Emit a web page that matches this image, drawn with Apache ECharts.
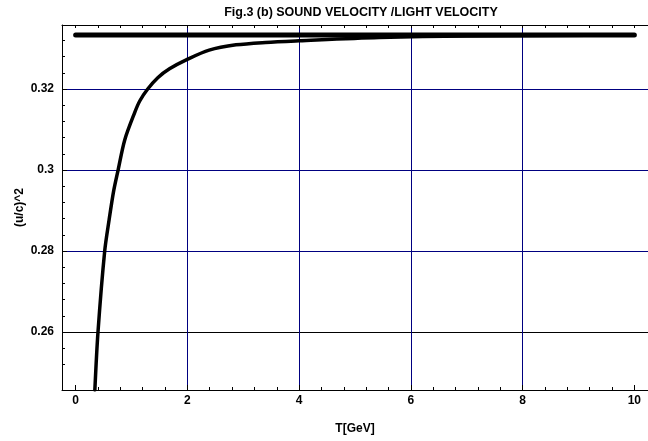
<!DOCTYPE html>
<html>
<head>
<meta charset="utf-8">
<script src="https://cdn.jsdelivr.net/npm/echarts@6/dist/echarts.min.js"></script>
<style>html,body{margin:0;padding:0;background:#fff}#c{width:648px;height:441px}</style>
</head>
<body>
<div id="c"></div>
<script>
// ---- data ----
const titleText = 'Fig.3 (b) SOUND VELOCITY /LIGHT VELOCITY';
const xName = 'T[GeV]';
const yName = '(u/c)^2';
const xMajor = [0, 2, 4, 6, 8, 10];
const xMinor = [0.4, 0.8, 1.2, 1.6, 2.4, 2.8, 3.2, 3.6, 4.4, 4.8, 5.2, 5.6, 6.4, 6.8, 7.2, 7.6, 8.4, 8.8, 9.2, 9.6];
const yMajor = [0.26, 0.28, 0.3, 0.32];
const yMinor = [0.252, 0.256, 0.264, 0.268, 0.272, 0.276, 0.284, 0.288, 0.292, 0.296, 0.304, 0.308, 0.312, 0.316, 0.324, 0.328, 0.332];
const xGridBlue = [2, 4, 6, 8];
const yGridBlue = [0.28, 0.3, 0.32];
const yGridBlack = [0.26];
const curveT = [0.344, 0.40, 0.52, 0.60, 0.68, 0.76, 0.88, 1.06, 1.15, 1.29, 1.47, 1.68, 1.98, 2.39, 2.87, 3.4, 4.0, 5.43, 7.0, 8.5, 10.0];
const curveV = [0.2457, 0.260, 0.280, 0.2878, 0.2948, 0.300, 0.3075, 0.3143, 0.3171, 0.3200, 0.3228, 0.3250, 0.3272, 0.3296, 0.3309, 0.3315, 0.3319, 0.3327, 0.3331, 0.3332, 0.3333];
const limitT = [0, 10];
const limitV = [0.33333, 0.33333];

const X_MIN = -0.244, X_MAX = 10.244;
const Y_MIN = 0.2457, Y_MAX = 0.3358;

const fontFam = 'Liberation Sans, Arial, sans-serif';
const lbl = {color: '#000', fontFamily: fontFam, fontWeight: 'bold', fontSize: 12};
const NAVY = '#000080';

const chart = echarts.init(document.getElementById('c'), null, {renderer: 'canvas'});
const zip = (a, b) => a.map((v, i) => [v, b[i]]);

function gridAxis(pos, values, color) {
  return {
    type: 'value', min: pos === 'bottom' ? X_MIN : Y_MIN, max: pos === 'bottom' ? X_MAX : Y_MAX, position: pos,
    axisLine: {show: false, onZero: false},
    axisTick: {show: false, customValues: values},
    axisLabel: {show: false, customValues: values},
    splitLine: {show: true, lineStyle: {color: color, width: 1, type: 'solid'}},
    z: 0
  };
}

chart.setOption({
  animation: false,
  backgroundColor: '#fff',
  title: {
    text: titleText,
    left: 356, top: 1, textAlign: 'center',
    textStyle: {color: '#000', fontFamily: fontFam, fontWeight: 'bold', fontSize: 12.5}
  },
  grid: {left: 62, top: 25, right: -2.4, bottom: 51, containLabel: false},
  xAxis: [
    {
      type: 'value', min: X_MIN, max: X_MAX, position: 'bottom',
      name: xName, nameLocation: 'middle', nameGap: 33,
      nameTextStyle: lbl,
      axisLine: {show: true, onZero: false, lineStyle: {color: '#000', width: 1}},
      axisTick: {show: true, inside: true, length: 5, customValues: xMajor, lineStyle: {color: '#000'}},
      axisLabel: {show: true, customValues: xMajor, margin: 5, ...lbl},
      splitLine: {show: false}
    },
    {
      type: 'value', min: X_MIN, max: X_MAX, position: 'bottom',
      axisLine: {show: false, onZero: false},
      axisTick: {show: true, inside: true, length: 3, customValues: xMinor, lineStyle: {color: '#000'}},
      axisLabel: {show: false},
      splitLine: {show: false}
    },
    {
      type: 'value', min: X_MIN, max: X_MAX, position: 'top',
      axisLine: {show: true, onZero: false, lineStyle: {color: '#000', width: 1}},
      axisTick: {show: true, inside: true, length: 3, customValues: xMajor.concat(xMinor), lineStyle: {color: '#000'}},
      axisLabel: {show: false},
      splitLine: {show: false}
    },
    gridAxis('bottom', xGridBlue, NAVY)
  ],
  yAxis: [
    {
      type: 'value', min: Y_MIN, max: Y_MAX, position: 'left',
      name: yName, nameLocation: 'middle', nameGap: 36, nameRotate: 90, nameMoveOverlap: false,
      nameTextStyle: lbl,
      axisLine: {show: true, onZero: false, lineStyle: {color: '#000', width: 1}},
      axisTick: {show: true, inside: true, length: 5, customValues: yMajor, lineStyle: {color: '#000'}},
      axisLabel: {show: true, customValues: yMajor, margin: 8, ...lbl},
      splitLine: {show: false}
    },
    {
      type: 'value', min: Y_MIN, max: Y_MAX, position: 'left',
      axisLine: {show: false, onZero: false},
      axisTick: {show: true, inside: true, length: 3, customValues: yMinor, lineStyle: {color: '#000'}},
      axisLabel: {show: false},
      splitLine: {show: false}
    },
    gridAxis('left', yGridBlue, NAVY),
    gridAxis('left', yGridBlack, '#000000')
  ],
  series: [
    {
      type: 'line', xAxisIndex: 0, yAxisIndex: 0, z: 3,
      data: zip(limitT, limitV), showSymbol: false, symbol: 'none',
      lineStyle: {color: '#000', width: 5, cap: 'round'}
    },
    {
      type: 'line', xAxisIndex: 0, yAxisIndex: 0, z: 4,
      data: zip(curveT, curveV), showSymbol: false, symbol: 'none', smooth: 0.3, clip: true,
      lineStyle: {color: '#000', width: 3.5, cap: 'round', join: 'round'}
    }
  ]
});
</script>
</body>
</html>
